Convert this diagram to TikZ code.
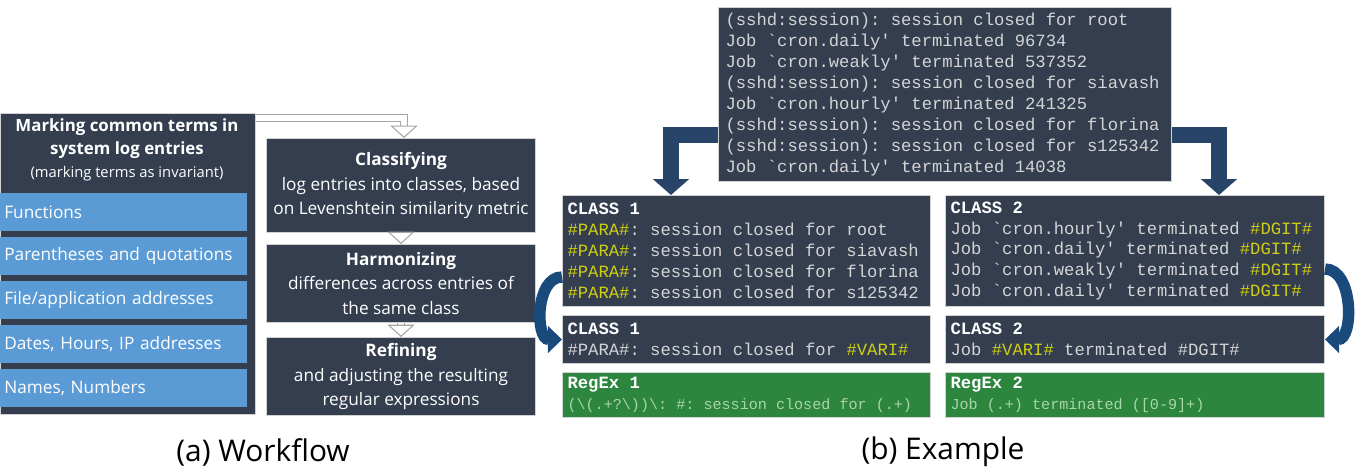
\documentclass[tikz,border=0pt]{standalone}
\usepackage{fontspec}
\setmainfont{Open Sans}
\setmonofont{Liberation Mono}
\usetikzlibrary{arrows.meta,calc,positioning}
\definecolor{slate}{RGB}{52,62,79}
\definecolor{boxblue}{RGB}{91,155,213}
\definecolor{regexgreen}{RGB}{44,134,62}
\definecolor{paraylw}{RGB}{206,206,20}
\definecolor{codegray}{RGB}{212,212,212}
\definecolor{regextext}{RGB}{170,212,170}
\definecolor{flowblue}{RGB}{40,68,104}
\definecolor{loopblue}{RGB}{26,74,124}
\newcommand{\yl}[1]{\textcolor{paraylw}{#1}}
\newcommand{\ttl}[1]{{\color{white}\bfseries #1}}

\begin{document}
\begin{tikzpicture}[x=0.02cm, y=-0.02cm,
    darkbox/.style = {draw=gray!35, line width=0.6pt, fill=slate, text=white, inner sep=0pt, anchor=north west},
    bluebox/.style = {fill=boxblue, text=white, anchor=north west, minimum height=0.76cm, text width=4.78cm, inner xsep=0.08cm, align=left, font=\fontsize{9.8}{12}\selectfont},
    stepbox/.style = {darkbox, minimum width=5.38cm, align=center, font=\fontsize{9.8}{14}\selectfont},
    logbox/.style = {darkbox, text=codegray, align=flush left, font=\fontsize{9.8}{11.9}\selectfont\ttfamily},
    regbox/.style = {logbox, fill=regexgreen, text=regextext},
    hollowarrow/.style = {draw=gray!70, line width=0.6pt, double=white, double distance=3.8pt, -{Triangle[width=15.5pt, length=7pt, fill=white]}},
    flowarrow/.style = {flowblue, line width=9pt, -{Triangle[width=20pt, length=9pt]}},
    turnarrow/.style = {loopblue, line width=6.5pt, -{Triangle[width=15pt, length=8pt]}}]
    \useasboundingbox (0,0) rectangle (1357,472);

    % Workflow
    \node[darkbox, minimum width=5.1cm, minimum height=6.02cm] (mark) at (0,113) {};
    \node[text=white, align=center, font=\bfseries\fontsize{9.6}{13}\selectfont] (marktitle) at (127,150) {Marking common terms in\\system log entries\\{\mdseries\fontsize{8.4}{10}\selectfont (marking terms as invariant)}};
    \foreach \t [count=\i] in {Functions, Parentheses and quotations, File/application addresses, {Dates, Hours, IP addresses}, {Names, Numbers}}
        \node[bluebox] (term\i) at (0,{149+44*\i}) {\t};

    \node[stepbox, minimum height=1.88cm] (classify) at (266,138) {\textbf{Classifying}\\log entries into classes, based\\on Levenshtein similarity metric};
    \node[stepbox, minimum height=1.56cm] (harmon) at (266,244) {\textbf{Harmonizing}\\differences across entries of\\the same class};
    \node[stepbox, minimum height=1.56cm] (refine) at (266,337) {\textbf{Refining}\\and adjusting the resulting\\regular expressions};

    \draw[hollowarrow] ($(mark.north east)+(0,5)$) -| ($(classify.north west)+(138,0)$);
    \draw[hollowarrow] (classify) -- (harmon);
    \draw[hollowarrow] (harmon) -- (refine);

    % Example
    \node[logbox, text width=8.78cm, inner xsep=0.14cm, minimum height=3.48cm] (logs) at (718,7) {(sshd:session): session closed for root\\Job `cron.daily' terminated 96734\\Job `cron.weakly' terminated 537352\\(sshd:session): session closed for siavash\\Job `cron.hourly' terminated 241325\\(sshd:session): session closed for florina\\(sshd:session): session closed for s125342\\Job `cron.daily' terminated 14038};

    \node[logbox, text width=7.16cm, inner xsep=0.1cm, minimum height=2.22cm] (class1) at (562,195) {\ttl{CLASS 1}\\\yl{\#PARA\#}: session closed for root\\\yl{\#PARA\#}: session closed for siavash\\\yl{\#PARA\#}: session closed for florina\\\yl{\#PARA\#}: session closed for s125342};
    \node[logbox, text width=7.16cm, inner xsep=0.1cm, minimum height=0.96cm] (class1b) at (562,315) {\ttl{CLASS 1}\\\#PARA\#: session closed for \yl{\#VARI\#}};
    \node[regbox, text width=7.16cm, inner xsep=0.1cm, minimum height=0.9cm] (regex1) at (562,372) {\ttl{RegEx 1}\\{\fontsize{8.6}{10}\selectfont (\textbackslash(.+?\textbackslash))\textbackslash: \#: session closed for (.+)}};

    \node[logbox, text width=7.38cm, inner xsep=0.1cm, minimum height=2.22cm] (class2) at (945,195) {\ttl{CLASS 2}\\Job `cron.hourly' terminated \yl{\#DGIT\#}\\Job `cron.daily' terminated \yl{\#DGIT\#}\\Job `cron.weakly' terminated \yl{\#DGIT\#}\\Job `cron.daily' terminated \yl{\#DGIT\#}};
    \node[logbox, text width=7.38cm, inner xsep=0.1cm, minimum height=0.96cm] (class2b) at (945,315) {\ttl{CLASS 2}\\Job \yl{\#VARI\#} terminated \#DGIT\#};
    \node[regbox, text width=7.38cm, inner xsep=0.1cm, minimum height=0.9cm] (regex2) at (945,372) {\ttl{RegEx 2}\\{\fontsize{8.6}{10}\selectfont Job (.+) terminated ([0-9]+)}};

    \draw[flowarrow] ($(logs.north west)+(0,128)$) -| ($(class1.north west)+(109,0)$);
    \draw[flowarrow] ($(logs.north east)+(0,128)$) -| ($(class2.north west)+(274,0)$);
    \draw[turnarrow] ($(class1.south west)+(0,-30)$) to[out=180, in=180, looseness=1.1] (class1b.west);
    \draw[turnarrow] ($(class2.south east)+(0,-38)$) to[out=0, in=0, looseness=1.05] (class2b.east);

    \node[font=\fontsize{17}{19}\selectfont] (capa) at (263,452) {(a) Workflow};
    \node[font=\fontsize{17}{19}\selectfont] (capb) at (943,452) {(b) Example};
\end{tikzpicture}
\end{document}
